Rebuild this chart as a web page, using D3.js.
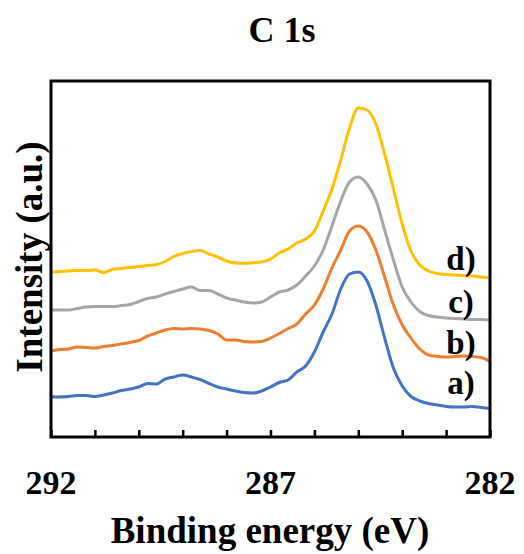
<!DOCTYPE html>
<html>
<head>
<meta charset="utf-8">
<script src="https://cdn.jsdelivr.net/npm/d3@7"></script>
<style>
  html, body { margin: 0; padding: 0; background: #fff; }
  svg { display: block; }
  text { font-family: "Liberation Serif", "Times New Roman", serif; font-weight: bold; fill: #000; }
</style>
</head>
<body>
<svg id="chart" width="524" height="554"></svg>
<script>
// Binding energy grid (eV), shared by all spectra
const energy = d3.range(0, 51).map(i => +(292 - i * 0.2).toFixed(1));

// Intensities (a.u., offset as plotted)
const seriesA = [40.3, 40, 40.5, 41.5, 41.5, 40.5, 42, 44, 46.5, 48, 50, 53.5, 53, 58, 60, 62, 60, 57.5, 53.5, 50, 48, 46, 44.5, 44, 46, 50, 54.5, 57, 65, 71, 85, 105, 123, 148, 163, 165, 156, 132, 99, 69, 51, 40.5, 36, 33.5, 32, 30.5, 30, 30, 30.5, 29.5, 28.5];
const seriesB = [86, 87.5, 88, 90, 89.5, 89, 90.5, 91.5, 93, 94.5, 96.5, 101, 104, 107, 108.5, 108, 108.5, 108, 106.5, 103, 97, 97, 95.5, 95, 95.5, 99, 103.5, 108.5, 113, 123, 132, 148, 169, 187, 206, 211, 205, 187, 160, 132, 112, 99, 88, 82, 80.5, 80, 80.5, 81, 80.5, 79.5, 75.5];
const seriesC = [127, 127, 127, 128.5, 130, 130.5, 130.5, 130.5, 131.5, 132.5, 135.5, 138.5, 140, 143, 145.5, 148, 150, 146.5, 146.5, 143, 139, 137, 135, 134, 135, 140, 145, 147, 152, 161, 171, 187, 211, 236, 255, 260, 253, 237, 207, 177, 150, 135, 125.5, 121.5, 120, 119, 118.5, 118, 117.5, 117.5, 117];
const seriesD = [165, 165.5, 166, 166.5, 166.5, 167, 164.5, 167.5, 168.5, 169.5, 170.5, 171.5, 172.5, 175.5, 180.5, 183.5, 185.5, 186.5, 183, 180, 176, 174, 173.7, 174.3, 175, 178, 184, 188, 194, 198, 206, 226, 248, 277, 309, 329, 327, 313, 283, 248, 213, 186, 172, 166, 163.5, 162.5, 162, 161.5, 161, 160, 159];

const seriesNames = ["a)", "b)", "c)", "d)"];
const seriesColors = ["#4472C4", "#ED7D31", "#A5A5A5", "#FFC000"];
const xTickValues = [292, 291, 290, 289, 288, 287, 286, 285, 284, 283, 282];
const xTickLabels = [292, 287, 282];
const labelAnchors = [30, 70, 111, 154];   // intensity level where each label sits

const svg = d3.select("#chart");
const mLeft = 51, mRight = 490, mTop = 81, mBottom = 437;

const x = d3.scaleLinear().domain([292, 282]).range([mLeft, mRight]);
const y = d3.scaleLinear().domain([0, 356]).range([mBottom, mTop]);

// Title
svg.append("text").attr("x", 282).attr("y", 42).attr("text-anchor", "middle")
  .style("font-size", "36px").text("C 1s");

// Spectra
const allSeries = [seriesA, seriesB, seriesC, seriesD];
const line = d3.line().curve(d3.curveMonotoneX).x(d => x(d[0])).y(d => y(d[1]));
allSeries.forEach((s, i) => {
  svg.append("path")
    .datum(energy.map((e, k) => [e, s[k]]))
    .attr("fill", "none")
    .attr("stroke", seriesColors[i])
    .attr("stroke-width", 3)
    .attr("stroke-linejoin", "round")
    .attr("d", line);
});

// Labels
seriesNames.forEach((n, i) => {
  svg.append("text").attr("x", x(282.66)).attr("y", y(labelAnchors[i]) - 13)
    .attr("text-anchor", "middle").style("font-size", "33px").text(n);
});

// Bottom axis ticks (inward)
const xAxis = d3.axisBottom(x).tickValues(xTickValues).tickSize(-7).tickFormat("");
const gx = svg.append("g").attr("transform", `translate(0,${mBottom})`).call(xAxis);
gx.select(".domain").remove();
gx.selectAll(".tick line").attr("stroke", "#000").attr("stroke-width", 2.5);

// Tick labels
svg.selectAll(".xlab").data(xTickLabels).enter().append("text")
  .attr("x", d => x(d)).attr("y", 494).attr("text-anchor", "middle")
  .style("font-size", "34px").text(d => d);

// Frame
svg.append("rect").attr("x", mLeft).attr("y", mTop)
  .attr("width", mRight - mLeft).attr("height", mBottom - mTop)
  .attr("fill", "none").attr("stroke", "#000").attr("stroke-width", 3);

// Axis titles
svg.append("text").attr("x", 270).attr("y", 543).attr("text-anchor", "middle")
  .style("font-size", "37px").text("Binding energy (eV)");
svg.append("text").attr("transform", "translate(42,257) rotate(-90)")
  .attr("text-anchor", "middle").style("font-size", "37px").text("Intensity (a.u.)");
</script>
</body>
</html>
